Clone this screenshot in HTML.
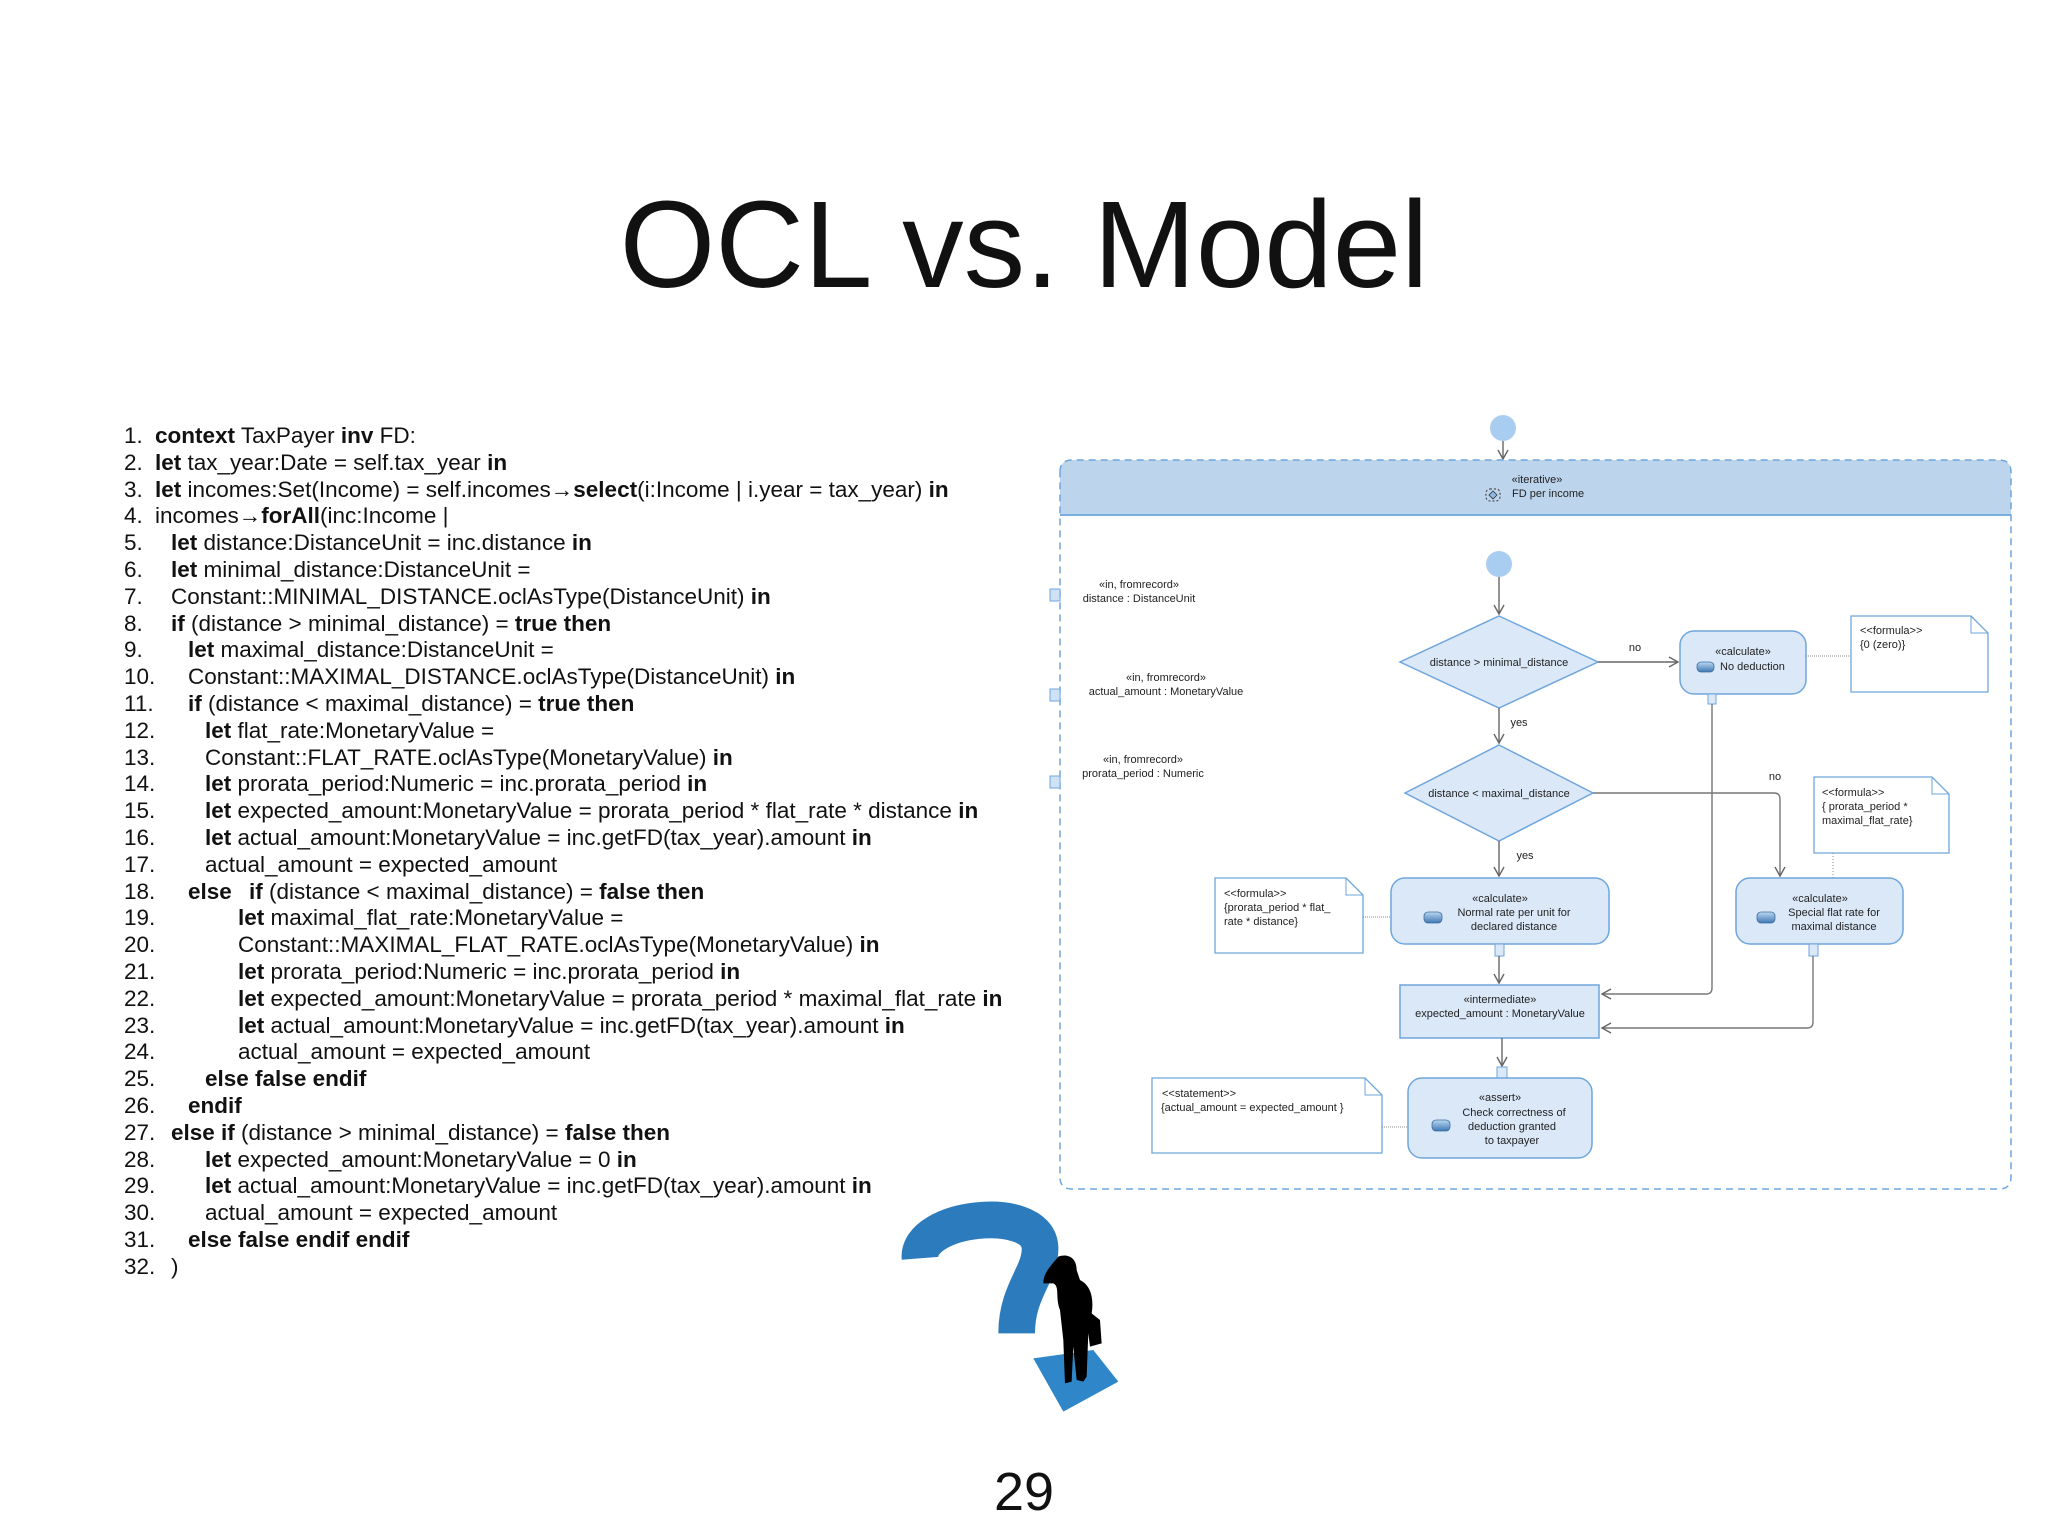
<!DOCTYPE html>
<html><head><meta charset="utf-8"><style>
html,body{margin:0;padding:0;background:#fff;}
svg{display:block;}
.c{font-family:"Liberation Sans",sans-serif;font-size:22.5px;fill:#111;}
.d{font-family:"Liberation Sans",sans-serif;font-size:11px;fill:#222;}
</style></head><body>
<svg width="2048" height="1536" viewBox="0 0 2048 1536" xmlns="http://www.w3.org/2000/svg">
<defs>
<marker id="ar" markerWidth="12" markerHeight="12" refX="10" refY="6" orient="auto" markerUnits="userSpaceOnUse">
<path d="M1,1 L10,6 L1,11" fill="none" stroke="#666" stroke-width="1.4"/></marker>
<linearGradient id="pill" x1="0" y1="0" x2="0" y2="1"><stop offset="0" stop-color="#bcd8f2"/><stop offset="1" stop-color="#3e78b4"/></linearGradient>
</defs>
<text x="1024" y="287" text-anchor="middle" font-family="Liberation Sans,sans-serif" font-size="123" fill="#111">OCL vs. Model</text>

<g class="c">
<text x="124" y="443">1.</text><text x="155" y="443"><tspan font-weight="bold">context</tspan> TaxPayer <tspan font-weight="bold">inv</tspan> FD:</text>
<text x="124" y="470">2.</text><text x="155" y="470"><tspan font-weight="bold">let</tspan> tax_year:Date = self.tax_year <tspan font-weight="bold">in</tspan></text>
<text x="124" y="497">3.</text><text x="155" y="497"><tspan font-weight="bold">let</tspan> incomes:Set(Income) = self.incomes→<tspan font-weight="bold">select</tspan>(i:Income | i.year = tax_year) <tspan font-weight="bold">in</tspan></text>
<text x="124" y="523">4.</text><text x="155" y="523">incomes→<tspan font-weight="bold">forAll</tspan>(inc:Income |</text>
<text x="124" y="550">5.</text><text x="171" y="550"><tspan font-weight="bold">let</tspan> distance:DistanceUnit = inc.distance <tspan font-weight="bold">in</tspan></text>
<text x="124" y="577">6.</text><text x="171" y="577"><tspan font-weight="bold">let</tspan> minimal_distance:DistanceUnit =</text>
<text x="124" y="604">7.</text><text x="171" y="604">Constant::MINIMAL_DISTANCE.oclAsType(DistanceUnit) <tspan font-weight="bold">in</tspan></text>
<text x="124" y="631">8.</text><text x="171" y="631"><tspan font-weight="bold">if</tspan> (distance &gt; minimal_distance) = <tspan font-weight="bold">true then</tspan></text>
<text x="124" y="657">9.</text><text x="188" y="657"><tspan font-weight="bold">let</tspan> maximal_distance:DistanceUnit =</text>
<text x="124" y="684">10.</text><text x="188" y="684">Constant::MAXIMAL_DISTANCE.oclAsType(DistanceUnit) <tspan font-weight="bold">in</tspan></text>
<text x="124" y="711">11.</text><text x="188" y="711"><tspan font-weight="bold">if</tspan> (distance &lt; maximal_distance) = <tspan font-weight="bold">true then</tspan></text>
<text x="124" y="738">12.</text><text x="205" y="738"><tspan font-weight="bold">let</tspan> flat_rate:MonetaryValue =</text>
<text x="124" y="765">13.</text><text x="205" y="765">Constant::FLAT_RATE.oclAsType(MonetaryValue) <tspan font-weight="bold">in</tspan></text>
<text x="124" y="791">14.</text><text x="205" y="791"><tspan font-weight="bold">let</tspan> prorata_period:Numeric = inc.prorata_period <tspan font-weight="bold">in</tspan></text>
<text x="124" y="818">15.</text><text x="205" y="818"><tspan font-weight="bold">let</tspan> expected_amount:MonetaryValue = prorata_period * flat_rate * distance <tspan font-weight="bold">in</tspan></text>
<text x="124" y="845">16.</text><text x="205" y="845"><tspan font-weight="bold">let</tspan> actual_amount:MonetaryValue = inc.getFD(tax_year).amount <tspan font-weight="bold">in</tspan></text>
<text x="124" y="872">17.</text><text x="205" y="872">actual_amount = expected_amount</text>
<text x="124" y="899">18.</text><text x="188" y="899" font-weight="bold">else</text><text x="249" y="899"><tspan font-weight="bold">if</tspan> (distance &lt; maximal_distance) = <tspan font-weight="bold">false then</tspan></text>
<text x="124" y="925">19.</text><text x="238" y="925"><tspan font-weight="bold">let</tspan> maximal_flat_rate:MonetaryValue =</text>
<text x="124" y="952">20.</text><text x="238" y="952">Constant::MAXIMAL_FLAT_RATE.oclAsType(MonetaryValue) <tspan font-weight="bold">in</tspan></text>
<text x="124" y="979">21.</text><text x="238" y="979"><tspan font-weight="bold">let</tspan> prorata_period:Numeric = inc.prorata_period <tspan font-weight="bold">in</tspan></text>
<text x="124" y="1006">22.</text><text x="238" y="1006"><tspan font-weight="bold">let</tspan> expected_amount:MonetaryValue = prorata_period * maximal_flat_rate <tspan font-weight="bold">in</tspan></text>
<text x="124" y="1033">23.</text><text x="238" y="1033"><tspan font-weight="bold">let</tspan> actual_amount:MonetaryValue = inc.getFD(tax_year).amount <tspan font-weight="bold">in</tspan></text>
<text x="124" y="1059">24.</text><text x="238" y="1059">actual_amount = expected_amount</text>
<text x="124" y="1086">25.</text><text x="205" y="1086" font-weight="bold">else false endif</text>
<text x="124" y="1113">26.</text><text x="188" y="1113" font-weight="bold">endif</text>
<text x="124" y="1140">27.</text><text x="171" y="1140"><tspan font-weight="bold">else if</tspan> (distance &gt; minimal_distance) = <tspan font-weight="bold">false then</tspan></text>
<text x="124" y="1167">28.</text><text x="205" y="1167"><tspan font-weight="bold">let</tspan> expected_amount:MonetaryValue = 0 <tspan font-weight="bold">in</tspan></text>
<text x="124" y="1193">29.</text><text x="205" y="1193"><tspan font-weight="bold">let</tspan> actual_amount:MonetaryValue = inc.getFD(tax_year).amount <tspan font-weight="bold">in</tspan></text>
<text x="124" y="1220">30.</text><text x="205" y="1220">actual_amount = expected_amount</text>
<text x="124" y="1247">31.</text><text x="188" y="1247" font-weight="bold">else false endif endif</text>
<text x="124" y="1274">32.</text><text x="171" y="1274">)</text>
</g>

<circle cx="1503" cy="428" r="13" fill="#a9cdf0"/>
<line x1="1503" y1="441" x2="1503" y2="459" stroke="#666" stroke-width="1.4" marker-end="url(#ar)"/>
<path d="M1060,515 L1060,472 Q1060,460 1072,460 L1999,460 Q2011,460 2011,472 L2011,515 Z" fill="#bcd5ec"/>
<line x1="1060" y1="515" x2="2011" y2="515" stroke="#7aaede" stroke-width="2"/>
<path d="M1060,472 Q1060,460 1072,460 L1999,460 Q2011,460 2011,472 L2011,1177 Q2011,1189 1999,1189 L1072,1189 Q1060,1189 1060,1177 Z" fill="none" stroke="#6fa6dc" stroke-width="1.5" stroke-dasharray="7,5"/>
<text class="d" x="1537" y="483" text-anchor="middle">«iterative»</text>
<rect x="1486" y="489" width="14" height="12" rx="4" fill="none" stroke="#333" stroke-dasharray="2,2"/>
<path d="M1493,491 L1497,495 L1493,499 L1489,495 Z" fill="#8fb8e0" stroke="#333" stroke-width="0.8"/>
<text class="d" x="1512" y="497">FD per income</text>

<g class="d" text-anchor="middle">
<text x="1139" y="588">«in, fromrecord»</text><text x="1139" y="602">distance : DistanceUnit</text>
<text x="1166" y="681">«in, fromrecord»</text><text x="1166" y="695">actual_amount : MonetaryValue</text>
<text x="1143" y="763">«in, fromrecord»</text><text x="1143" y="777">prorata_period : Numeric</text>
</g>
<g fill="#cfe2f5" stroke="#6fa6dc" stroke-width="1">
<rect x="1050" y="589" width="10" height="12"/><rect x="1050" y="689" width="10" height="12"/><rect x="1050" y="776" width="10" height="12"/>
</g>

<circle cx="1499" cy="564" r="13" fill="#a9cdf0"/>
<line x1="1499" y1="577" x2="1499" y2="614" stroke="#666" stroke-width="1.4" marker-end="url(#ar)"/>
<polygon points="1499,616 1598,662 1499,708 1400,662" fill="#dae8f8" stroke="#6fa6dc" stroke-width="1.5"/>
<text class="d" x="1499" y="666" text-anchor="middle">distance &gt; minimal_distance</text>
<line x1="1598" y1="662" x2="1678" y2="662" stroke="#666" stroke-width="1.4" marker-end="url(#ar)"/>
<text class="d" x="1635" y="651" text-anchor="middle">no</text>
<line x1="1499" y1="708" x2="1499" y2="743" stroke="#666" stroke-width="1.4" marker-end="url(#ar)"/>
<text class="d" x="1519" y="726" text-anchor="middle">yes</text>

<rect x="1680" y="631" width="126" height="63" rx="14" fill="#dae8f8" stroke="#6fa6dc" stroke-width="1.5"/>
<text class="d" x="1743" y="655" text-anchor="middle">«calculate»</text>
<rect x="1697" y="662" width="17" height="10" rx="4" fill="url(#pill)" stroke="#3e6e9e" stroke-width="0.8"/>
<text class="d" x="1720" y="670">No deduction</text>
<line x1="1806" y1="656" x2="1851" y2="656" stroke="#888" stroke-dasharray="1,1"/>
<path d="M1851,616 L1971,616 L1988,633 L1988,692 L1851,692 Z" fill="#fff" stroke="#6fa6dc" stroke-width="1.3"/>
<path d="M1971,616 L1971,633 L1988,633" fill="none" stroke="#6fa6dc" stroke-width="1"/>
<text class="d" x="1860" y="634">&lt;&lt;formula&gt;&gt;</text><text class="d" x="1860" y="648">{0 (zero)}</text>
<rect x="1708" y="694" width="8" height="10" fill="#dae8f8" stroke="#6fa6dc"/>
<path d="M1712,704 L1712,988 Q1712,994 1706,994 L1602,994" fill="none" stroke="#777" stroke-width="1.4" marker-end="url(#ar)"/>

<polygon points="1499,745 1593,793 1499,841 1405,793" fill="#dae8f8" stroke="#6fa6dc" stroke-width="1.5"/>
<text class="d" x="1499" y="797" text-anchor="middle">distance &lt; maximal_distance</text>
<path d="M1593,793 L1774,793 Q1780,793 1780,799 L1780,876" fill="none" stroke="#777" stroke-width="1.4" marker-end="url(#ar)"/>
<text class="d" x="1775" y="780" text-anchor="middle">no</text>
<line x1="1499" y1="841" x2="1499" y2="876" stroke="#666" stroke-width="1.4" marker-end="url(#ar)"/>
<text class="d" x="1525" y="859" text-anchor="middle">yes</text>

<path d="M1814,777 L1932,777 L1949,794 L1949,853 L1814,853 Z" fill="#fff" stroke="#6fa6dc" stroke-width="1.3"/>
<path d="M1932,777 L1932,794 L1949,794" fill="none" stroke="#6fa6dc" stroke-width="1"/>
<text class="d" x="1822" y="796">&lt;&lt;formula&gt;&gt;</text><text class="d" x="1822" y="810">{ prorata_period *</text><text class="d" x="1822" y="824">maximal_flat_rate}</text>
<line x1="1833" y1="853" x2="1833" y2="878" stroke="#888" stroke-dasharray="1,2"/>

<rect x="1391" y="878" width="218" height="66" rx="14" fill="#dae8f8" stroke="#6fa6dc" stroke-width="1.5"/>
<text class="d" x="1500" y="902" text-anchor="middle">«calculate»</text>
<text class="d" x="1514" y="916" text-anchor="middle">Normal rate per unit for</text>
<text class="d" x="1514" y="930" text-anchor="middle">declared distance</text>
<rect x="1424" y="912" width="18" height="11" rx="4" fill="url(#pill)" stroke="#3e6e9e" stroke-width="0.8"/>
<path d="M1215,878 L1346,878 L1363,895 L1363,953 L1215,953 Z" fill="#fff" stroke="#6fa6dc" stroke-width="1.3"/>
<path d="M1346,878 L1346,895 L1363,895" fill="none" stroke="#6fa6dc" stroke-width="1"/>
<text class="d" x="1224" y="897">&lt;&lt;formula&gt;&gt;</text><text class="d" x="1224" y="911">{prorata_period * flat_</text><text class="d" x="1224" y="925">rate * distance}</text>
<line x1="1363" y1="917" x2="1391" y2="917" stroke="#888" stroke-dasharray="1,1"/>
<rect x="1495" y="944" width="9" height="12" fill="#dae8f8" stroke="#6fa6dc"/>
<line x1="1499" y1="956" x2="1499" y2="983" stroke="#666" stroke-width="1.4" marker-end="url(#ar)"/>

<rect x="1736" y="878" width="167" height="66" rx="14" fill="#dae8f8" stroke="#6fa6dc" stroke-width="1.5"/>
<text class="d" x="1820" y="902" text-anchor="middle">«calculate»</text>
<text class="d" x="1834" y="916" text-anchor="middle">Special flat rate for</text>
<text class="d" x="1834" y="930" text-anchor="middle">maximal distance</text>
<rect x="1757" y="912" width="18" height="11" rx="4" fill="url(#pill)" stroke="#3e6e9e" stroke-width="0.8"/>
<rect x="1809" y="944" width="9" height="12" fill="#dae8f8" stroke="#6fa6dc"/>
<path d="M1813,956 L1813,1022 Q1813,1028 1807,1028 L1602,1028" fill="none" stroke="#777" stroke-width="1.4" marker-end="url(#ar)"/>

<rect x="1400" y="985" width="199" height="53" fill="#dae8f8" stroke="#6fa6dc" stroke-width="1.5"/>
<text class="d" x="1500" y="1003" text-anchor="middle">«intermediate»</text>
<text class="d" x="1500" y="1017" text-anchor="middle">expected_amount : MonetaryValue</text>
<line x1="1502" y1="1038" x2="1502" y2="1066" stroke="#666" stroke-width="1.4" marker-end="url(#ar)"/>
<rect x="1497" y="1067" width="10" height="11" fill="#dae8f8" stroke="#6fa6dc"/>

<rect x="1408" y="1078" width="184" height="80" rx="14" fill="#dae8f8" stroke="#6fa6dc" stroke-width="1.5"/>
<text class="d" x="1500" y="1101" text-anchor="middle">«assert»</text>
<text class="d" x="1514" y="1116" text-anchor="middle">Check correctness of</text>
<text class="d" x="1512" y="1130" text-anchor="middle">deduction granted</text>
<text class="d" x="1512" y="1144" text-anchor="middle">to taxpayer</text>
<rect x="1432" y="1120" width="18" height="11" rx="4" fill="url(#pill)" stroke="#3e6e9e" stroke-width="0.8"/>
<path d="M1152,1078 L1365,1078 L1382,1095 L1382,1153 L1152,1153 Z" fill="#fff" stroke="#6fa6dc" stroke-width="1.3"/>
<path d="M1365,1078 L1365,1095 L1382,1095" fill="none" stroke="#6fa6dc" stroke-width="1"/>
<text class="d" x="1162" y="1097">&lt;&lt;statement&gt;&gt;</text><text class="d" x="1161" y="1111">{actual_amount = expected_amount }</text>
<line x1="1382" y1="1127" x2="1408" y2="1127" stroke="#888" stroke-dasharray="1,1"/>

<g transform="translate(880,1190) scale(0.3333)">
<path d="M120,205 C110,80 470,40 480,170 C485,250 410,300 410,430" fill="none" stroke="#2c7cbd" stroke-width="110"/>
<polygon points="460,505 640,480 715,575 550,665" fill="#2f86c8"/>
<path d="M535,200 C560,190 590,200 590,240 L600,270 C640,290 640,340 635,370 L660,390 L665,460 L630,470 L625,430 L620,560 L610,575 L590,570 L580,470 L575,575 L555,580 L550,450 L540,360 C525,320 540,290 520,280 L490,280 C490,250 510,230 535,200 Z" fill="#000"/>
</g>

<text x="1024" y="1510" text-anchor="middle" font-family="Liberation Sans,sans-serif" font-size="54" fill="#111">29</text>
</svg>
</body></html>
